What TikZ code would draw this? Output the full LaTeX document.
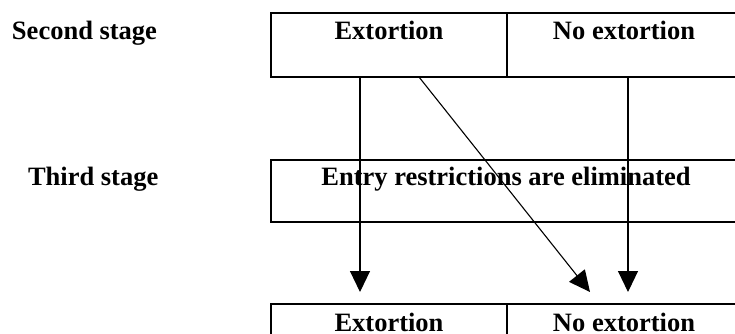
\documentclass[tikz,border=0pt]{standalone}
\usepackage{fontspec}
\setmainfont{Liberation Serif}
\usetikzlibrary{arrows.meta,calc}
\tikzset{
  cell/.style={draw=black, line width=1.6pt, rectangle, inner sep=0pt, outer sep=0pt, anchor=north west},
  lbl/.style={inner sep=0pt, outer sep=0pt, font=\fontsize{26.5}{30}\selectfont\bfseries},
  arr/.style={line width=1.1pt, -{Triangle[length=21pt,width=20pt]}}
}
\begin{document}
\begin{tikzpicture}[x=1pt,y=-1pt]
\useasboundingbox (0,0) rectangle (735,334);
\clip (0,0) rectangle (735,334);
% boxes
\node[cell, minimum width=236pt, minimum height=64pt] (tl) at (271,13) {};
\node[cell, minimum width=234pt, minimum height=64pt] (tr) at (507,13) {};
\node[cell, minimum width=470pt, minimum height=62pt] (mid) at (271,160) {};
\node[cell, minimum width=236pt, minimum height=70pt] (bl) at (271,304) {};
\node[cell, minimum width=234pt, minimum height=70pt] (br) at (507,304) {};
% texts
\node[lbl, anchor=base] (t1) at ([yshift=-27pt]tl.north) {Extortion};
\node[lbl, anchor=base] (t2) at ([yshift=-27pt]tr.north) {No extortion};
\node[lbl, anchor=base] (t3) at ([yshift=-25pt]mid.north) {Entry restrictions are eliminated};
\node[lbl, anchor=base] (t4) at ([yshift=-27pt]bl.north) {Extortion};
\node[lbl, anchor=base] (t5) at ([yshift=-27pt]br.north) {No extortion};
\node[lbl, anchor=base west] (s2) at (12,40) {Second stage};
\node[lbl, anchor=base west] (s3) at (28,185) {Third stage};
% arrows
\draw[arr] ([xshift=89pt]tl.south west) -- ([xshift=89pt,yshift=12pt]bl.north west);
\draw[arr] ([xshift=148pt]tl.south west) -- ([xshift=83pt,yshift=12pt]br.north west);
\draw[arr] ([xshift=121pt]tr.south west) -- ([xshift=121pt,yshift=12pt]br.north west);
\end{tikzpicture}
\end{document}
